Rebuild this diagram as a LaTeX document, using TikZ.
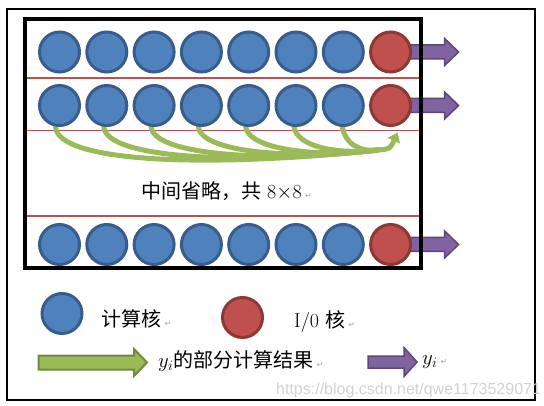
\documentclass[tikz,border=0pt]{standalone}
\usepackage{fontspec}
\newfontfamily\cjk{Noto Sans CJK SC}
\newfontfamily\dejavu{DejaVu Sans}
\newfontfamily\wmfont{Liberation Sans}
\usetikzlibrary{arrows.meta}
\definecolor{coreblue}{HTML}{4F81BD}
\definecolor{coreedge}{HTML}{385D8A}
\definecolor{iored}{HTML}{C0504D}
\definecolor{ioedge}{HTML}{8C3836}
\definecolor{apurple}{HTML}{8064A2}
\definecolor{apurpleedge}{HTML}{5C4776}
\definecolor{agreen}{HTML}{9BBB59}
\definecolor{agreenedge}{HTML}{71893F}
\definecolor{rowline}{HTML}{C0504D}
\definecolor{wmgray}{HTML}{D2D2D2}
\pgfdeclarelayer{bg}
\pgfsetlayers{bg,main}
\newcommand\retmark{\,{\dejavu\fontsize{8pt}{8pt}\selectfont\color{gray!70}↵}}
\begin{document}
\begin{tikzpicture}[x=1pt,y=-1pt,
  core/.style={circle,draw=coreedge,fill=coreblue,line width=3pt,minimum size=40pt,inner sep=0pt},
  io/.style={circle,draw=ioedge,fill=iored,line width=3pt,minimum size=40pt,inner sep=0pt},
  purplearrow/.style={fill=apurple,draw=apurpleedge,line width=1.5pt,line join=miter},
  greenarrow/.style={fill=agreen,draw=agreenedge,line width=2pt,line join=miter},
  greenline/.style={draw=agreen,line width=5pt,line cap=round},
  sepline/.style={draw=rowline,line width=1.6pt},
  txt/.style={inner sep=0pt,font=\fontsize{20pt}{24pt}\selectfont}
]
\useasboundingbox (0,0) rectangle (544,406);
% outer frame
\draw[line width=1.5pt] (7,9) rectangle (535,400);

% circles
\foreach \r/\yy in {1/52,2/105.5,3/244.5}{
  \foreach \k in {1,...,7}{
    \node[core] (c\r-\k) at ({59.5+47.3*(\k-1)},\yy) {};
  }
  \node[io] (io\r) at (390.6,\yy) {};
}

\begin{pgfonlayer}{bg}
  % separating red lines
  \draw[sepline] (25,78) -- (419,78);
  \draw[sepline] (25,130.7) -- (419,130.7);
  \draw[sepline] (25,216) -- (419,216);
  % purple output arrows
  \foreach \r in {1,2,3}{
    \draw[purplearrow] ([shift={(14,-7)}]io\r.center) -- ++(40,0) -- ++(0,-6.5) -- ++(14,13.5) -- ++(-14,13.5) -- ++(0,-6.5) -- ++(-40,0) -- cycle;
  }
  % green partial-result curves
  \coordinate (J) at (378,150);
  \draw[greenline] ([xshift=-4pt]c2-1.south) .. controls +(3,36) and (210,168) .. (J);
  \draw[greenline] ([xshift=-3pt]c2-2.south) .. controls +(3,32) and (240,165) .. (J);
  \draw[greenline] ([xshift=-3pt]c2-3.south) .. controls +(3,28) and (265,163) .. (J);
  \draw[greenline] ([xshift=-3pt]c2-4.south) .. controls +(3,25) and (290,160) .. (J);
  \draw[greenline] ([xshift=-3pt]c2-5.south) .. controls +(3,22) and (315,158) .. (J);
  \draw[greenline] ([xshift=-2pt]c2-6.south) .. controls +(3,19) and (335,155) .. (J);
  \draw[greenline] ([xshift=-1pt]c2-7.south) .. controls +(3,16) and (358,152) .. (J);
  \draw[greenline,line cap=butt,-{Triangle[width=13pt,length=9pt]}] (J) .. controls (390,149) .. ([shift={(7,5.5)}]io2.south);
\end{pgfonlayer}

% inner thick frame
\draw[line width=4pt] (25,19) rectangle (421,268);

% middle text
\node[txt,anchor=west] (midtxt) at (141,191.5) {{\cjk 中间省略，共} 8$\times$8\retmark};

% legend
\node[core] (legcore) at (62,313.5) {};
\node[txt,anchor=west] (legcoretxt) at (101,319) {{\cjk 计算核}\retmark};
\node[io] (legio) at (242.5,317.5) {};
\node[txt,anchor=west] (legiotxt) at (294,322) {I/0 {\cjk 核}\retmark};

\draw[greenarrow] (38.5,355.5) -- (134,355.5) -- (134,349) -- (147,362.5) -- (134,376) -- (134,369.5) -- (38.5,369.5) -- cycle;
\node[txt,anchor=west] (leggreentxt) at (158,361) {$y_i${\cjk 的部分计算结果}\retmark};

\draw[purplearrow] (368,356) -- (404,356) -- (404,347.5) -- (417,362) -- (404,376.5) -- (404,368) -- (368,368) -- cycle;
\node[txt,anchor=west] (legpurpletxt) at (422,362) {$y_i$\retmark};

% watermark
\node[anchor=base west,inner sep=0pt,text=wmgray,font=\wmfont\fontsize{16pt}{19pt}\selectfont] (wm) at (276,394.5) {https://blog.csdn.net/qwe1173529071};
\end{tikzpicture}
\end{document}
